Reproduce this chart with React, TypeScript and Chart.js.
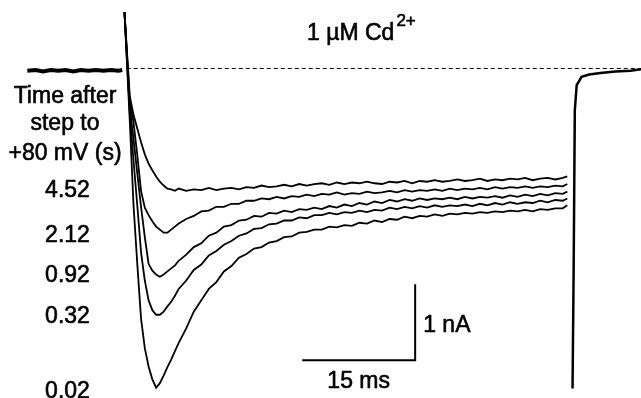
import React, { useEffect, useRef } from "react";
import { Chart, registerables } from "chart.js";

Chart.register(...registerables);

// time (ms) relative to the step onset
const timeMs = [
  -0.2, 0.5, 1, 1.5, 2, 2.5, 3, 3.5, 4, 4.5, 5, 5.5, 6, 6.5,
  7, 8, 9, 10, 11, 12, 13, 14, 15, 16, 17, 18, 19, 20, 21, 22, 23, 24, 25, 26,
  27, 28, 29, 30, 31, 32, 33, 34, 35, 36, 37, 38, 39, 40, 41, 42, 43, 44, 45, 46,
  47, 48, 49, 50, 51, 52, 53, 54, 55, 56, 57, 58, 58.6,
];

// currents (nA), one series per delay after the +80 mV prepulse
const trace452 = [
  0.74, -0.36, -0.61, -0.79, -0.97, -1.13, -1.25, -1.34, -1.42, -1.49, -1.54, -1.58, -1.59, -1.61,
  -1.58, -1.61, -1.59, -1.6, -1.57, -1.6, -1.58, -1.57, -1.59, -1.56,
  -1.57, -1.54, -1.56, -1.55, -1.53, -1.55, -1.52, -1.54, -1.52, -1.51,
  -1.53, -1.5, -1.52, -1.5, -1.51, -1.49, -1.51, -1.52, -1.49, -1.5,
  -1.48, -1.51, -1.48, -1.49, -1.47, -1.49, -1.48, -1.46, -1.48, -1.47,
  -1.45, -1.48, -1.46, -1.47, -1.45, -1.46, -1.44, -1.47, -1.45, -1.44,
  -1.46, -1.44, -1.42,
];
const trace212 = [
  0.74, -0.42, -0.71, -1.14, -1.61, -1.83, -1.93, -2.01, -2.08, -2.12, -2.16, -2.16, -2.12, -2.08,
  -2.04, -1.98, -1.94, -1.88, -1.87, -1.82, -1.82, -1.78, -1.78, -1.74,
  -1.74, -1.71, -1.72, -1.69, -1.71, -1.68, -1.69, -1.66, -1.68, -1.65,
  -1.66, -1.63, -1.66, -1.64, -1.65, -1.62, -1.64, -1.63, -1.61, -1.63,
  -1.6, -1.62, -1.6, -1.61, -1.59, -1.61, -1.58, -1.6, -1.58, -1.59,
  -1.57, -1.59, -1.56, -1.58, -1.56, -1.57, -1.55, -1.57, -1.55, -1.56,
  -1.54, -1.55, -1.52,
];
const trace092 = [
  0.74, -0.5, -0.93, -1.38, -1.82, -2.22, -2.57, -2.66, -2.71, -2.74, -2.71, -2.67, -2.63, -2.59,
  -2.53, -2.45, -2.35, -2.3, -2.2, -2.16, -2.08, -2.06, -2.0, -1.99,
  -1.94, -1.95, -1.9, -1.91, -1.87, -1.89, -1.85, -1.86, -1.83, -1.85,
  -1.81, -1.83, -1.79, -1.81, -1.77, -1.79, -1.75, -1.77, -1.73, -1.75,
  -1.72, -1.74, -1.71, -1.73, -1.71, -1.72, -1.7, -1.72, -1.69, -1.71,
  -1.69, -1.7, -1.68, -1.7, -1.67, -1.69, -1.66, -1.68, -1.65, -1.67,
  -1.64, -1.65, -1.62,
];
const trace032 = [
  0.74, -0.58, -1.21, -1.8, -2.42, -2.79, -3.05, -3.18, -3.24, -3.24, -3.2, -3.13, -3.07, -2.99,
  -2.9, -2.79, -2.65, -2.58, -2.46, -2.4, -2.32, -2.27, -2.2, -2.17,
  -2.11, -2.1, -2.05, -2.04, -2.0, -2.0, -1.96, -1.97, -1.93, -1.93,
  -1.9, -1.92, -1.89, -1.9, -1.87, -1.89, -1.86, -1.87, -1.83, -1.85,
  -1.82, -1.84, -1.81, -1.83, -1.8, -1.82, -1.8, -1.81, -1.79, -1.81,
  -1.78, -1.8, -1.77, -1.79, -1.76, -1.78, -1.76, -1.77, -1.74, -1.76,
  -1.73, -1.74, -1.71,
];
const trace002 = [
  0.74, -0.68, -1.8, -2.57, -3.29, -3.68, -3.92, -4.09, -4.2, -4.14, -4.04, -3.93, -3.83, -3.72,
  -3.61, -3.42, -3.2, -3.05, -2.9, -2.81, -2.67, -2.6, -2.49, -2.44,
  -2.37, -2.35, -2.29, -2.27, -2.22, -2.21, -2.16, -2.15, -2.12, -2.12,
  -2.08, -2.09, -2.06, -2.07, -2.03, -2.04, -2.0, -2.02, -1.98, -1.99,
  -1.95, -1.97, -1.94, -1.95, -1.92, -1.94, -1.91, -1.92, -1.9, -1.91,
  -1.89, -1.9, -1.88, -1.89, -1.87, -1.88, -1.86, -1.88, -1.85, -1.86,
  -1.84, -1.84, -1.8,
];

// holding baseline before the step
const baseTime = [-13.1, -12, -11, -10, -9, -8, -7, -6, -5, -4, -3, -2, -1, -0.5];
const baseCurrent = [-0.03, -0.02, -0.04, -0.02, -0.03, -0.02, -0.04, -0.02, -0.03, -0.02, -0.03, -0.02, -0.03, -0.02];

// tail current after repolarization
const tailTime = [59.3, 59.45, 59.6, 59.85, 60.5, 61.5, 63, 65, 67, 68.4];
const tailCurrent = [-4.21, -2.6, -0.55, -0.22, -0.11, -0.08, -0.06, -0.04, -0.03, -0.01];

// zero-current reference line
const zeroTime = [0.1, 68.4];
const zeroCurrent = [0, 0];

// scale bars: 15 ms, 1 nA
const barTime = [23.4, 38.4, 38.4];
const barCurrent = [-3.84, -3.84, -2.84];

const delayLabels = ["4.52", "2.12", "0.92", "0.32", "0.02"];
const delayLabelBaselines = [197, 242, 282, 323, 398];
const headerLines = ["Time after", "step to", "+80 mV (s)"];
const headerBaselines = [103, 130, 160];

const zip = (xs: number[], ys: number[]) => xs.map((x, i) => ({ x, y: ys[i] }));

const FONT = '"Liberation Sans", Arial, Helvetica, sans-serif';

const textPlugin = {
  id: "figText",
  afterDraw(chart: any) {
    const ctx = chart.ctx as CanvasRenderingContext2D;
    const xs = chart.scales.x;
    const ys = chart.scales.y;
    ctx.save();
    ctx.fillStyle = "#000";
    ctx.strokeStyle = "#000";
    ctx.lineWidth = 0.6;
    ctx.lineJoin = "round";
    ctx.textBaseline = "alphabetic";
    const put = (s: string, x: number, y: number) => {
      ctx.fillText(s, x, y);
      ctx.strokeText(s, x, y);
    };
    ctx.font = `23px ${FONT}`;
    ctx.textAlign = "center";
    headerLines.forEach((s, i) => put(s, 65, headerBaselines[i]));
    delayLabels.forEach((s, i) => put(s, 67.5, delayLabelBaselines[i]));
    // title
    ctx.textAlign = "left";
    put("1 \u00b5M Cd", 307, 40);
    const w = ctx.measureText("1 \u00b5M Cd").width;
    ctx.font = `17px ${FONT}`;
    put("2+", 307 + w + 2, 26);
    // scale bar labels
    ctx.font = `23px ${FONT}`;
    const bx0 = xs.getPixelForValue(barTime[0]);
    const bx1 = xs.getPixelForValue(barTime[1]);
    const by0 = ys.getPixelForValue(barCurrent[0]);
    const by1 = ys.getPixelForValue(barCurrent[2]);
    ctx.textAlign = "center";
    put("15 ms", (bx0 + bx1) / 2, by0 + 28);
    ctx.textAlign = "left";
    put("1 nA", bx1 + 8, (by0 + by1) / 2 + 10);
    ctx.restore();
  },
};

export default function App() {
  const ref = useRef<HTMLCanvasElement | null>(null);
  useEffect(() => {
    if (!ref.current) return;
    const line = (data: { x: number; y: number }[], width: number, extra: any = {}) => ({
      data,
      borderColor: "#000",
      borderWidth: width,
      pointRadius: 0,
      fill: false,
      tension: 0,
      ...extra,
    });
    const chart = new Chart(ref.current, {
      type: "line",
      data: {
        datasets: [
          line(zip(zeroTime, zeroCurrent), 1, { borderDash: [4, 3] }),
          line(zip(baseTime, baseCurrent), 4),
          line(zip(timeMs, trace452), 1.8),
          line(zip(timeMs, trace212), 1.8),
          line(zip(timeMs, trace092), 1.8),
          line(zip(timeMs, trace032), 1.8),
          line(zip(timeMs, trace002), 1.8),
          line(zip(tailTime, tailCurrent), 2.5),
          line(zip(barTime, barCurrent), 2),
        ],
      },
      options: {
        animation: false,
        responsive: false,
        devicePixelRatio: 1,
        layout: { padding: 0 },
        scales: {
          x: { type: "linear", min: -16.73, max: 68.39, display: false },
          y: { type: "linear", min: -4.3355, max: 0.9013, display: false },
        },
        plugins: { legend: { display: false }, tooltip: { enabled: false } },
        events: [],
      },
      plugins: [textPlugin],
    });
    return () => chart.destroy();
  }, []);
  return (
    <div style={{ position: "absolute", left: 0, top: 0, width: 641, height: 398, background: "#fff" }}>
      <canvas ref={ref} width={641} height={398} style={{ display: "block" }} />
    </div>
  );
}
